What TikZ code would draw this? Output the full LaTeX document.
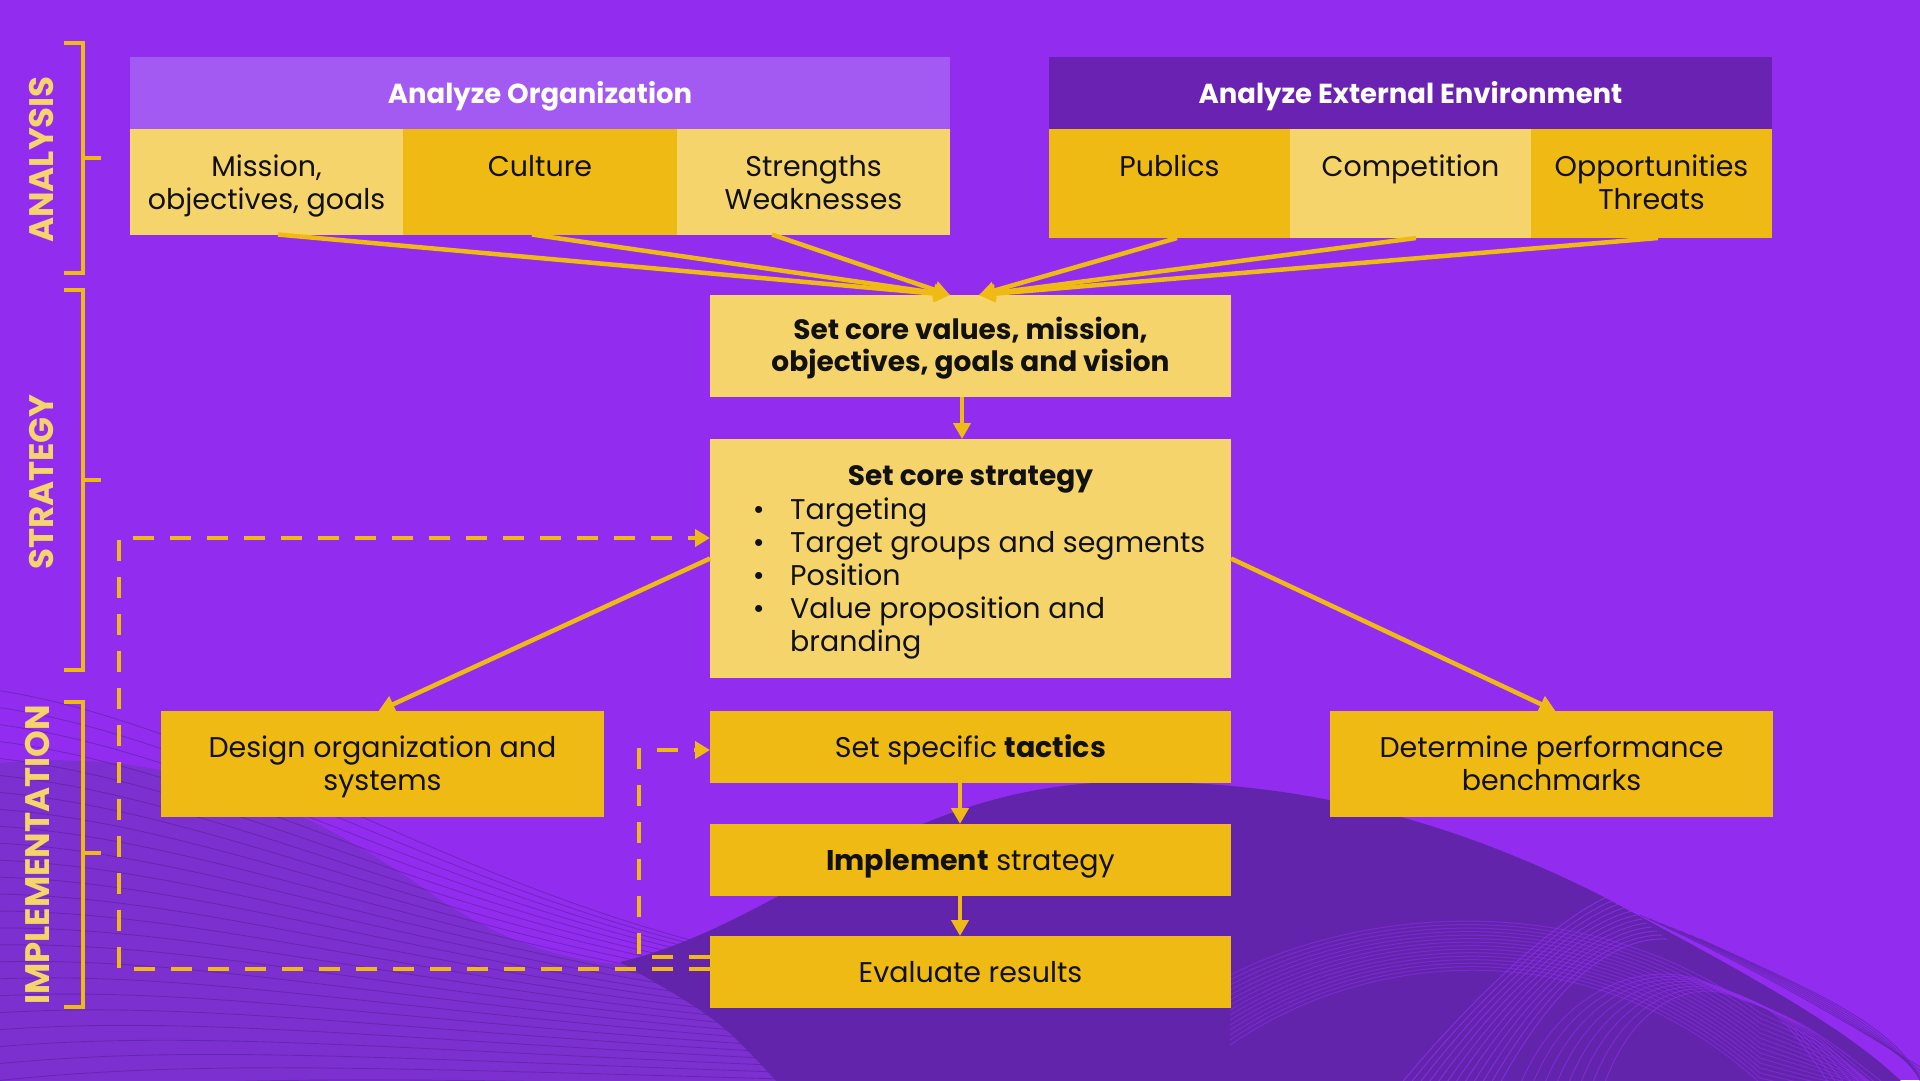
\documentclass[tikz,border=0pt]{standalone}
\usepackage{fontspec}
\setmainfont{Poppins}
\usetikzlibrary{arrows.meta,calc}

\definecolor{bgv}{RGB}{146,45,240}
\definecolor{hdrlight}{RGB}{163,90,242}
\definecolor{hdrdark}{RGB}{106,34,178}
\definecolor{gold}{RGB}{240,186,20}
\definecolor{sand}{RGB}{245,212,108}
\definecolor{hillv}{RGB}{98,36,170}
\definecolor{mutedv}{RGB}{125,48,208}
\definecolor{linev}{RGB}{78,28,140}
\definecolor{ink}{RGB}{17,17,17}

% stacked centred lines whose baseline is the first line
\newcommand\mlines[1]{\begin{tabular}[t]{@{}c@{}}#1\end{tabular}}

\tikzset{
  blk/.style={fill=#1, draw=none, inner sep=0pt, outer sep=0pt},
  txt/.style={font=\fontsize{28.5}{33}\selectfont, text=ink, inner sep=0pt, anchor=base},
  btxt/.style={font=\bfseries\fontsize{28}{32}\selectfont, text=ink, inner sep=0pt, anchor=base},
  htxt/.style={font=\bfseries\fontsize{27.5}{32}\selectfont, text=white, inner sep=0pt, anchor=base},
  sidelbl/.style={font=\bfseries\fontsize{34}{40}\selectfont, text=sand, inner sep=0pt, rotate=90},
  brk/.style={draw=gold, line width=4.5pt, line join=miter},
  arr/.style={draw=gold, line width=4.5pt, -{Triangle[length=16pt,width=17pt]}},
  dsh/.style={draw=gold, line width=4.5pt, dash pattern=on 21pt off 16pt, -{Triangle[length=15pt,width=17pt]}},
  wavel/.style={draw=linev, line width=0.9pt, opacity=0.45},
  arcl/.style={draw=bgv, line width=1pt, opacity=0.75}
}

\begin{document}
\begin{tikzpicture}[x=1pt,y=-1pt]
% canvas
\fill[bgv] (0,0) rectangle (1920,1080);
\useasboundingbox (0,0) rectangle (1920,1080);

% background wave, bottom left
\fill[mutedv] (0,763) .. controls (170,748) and (300,800) .. (436,897)
  .. controls (500,940) and (560,962) .. (640,966)
  .. controls (760,1000) and (900,1050) .. (1000,1085) -- (0,1085) -- cycle;
\foreach \k in {0,...,24}
  \draw[wavel] (-5,{690+17*\k}) .. controls (260,{730+14*\k}) and (520,{940+6*\k})
    .. ({880+18*\k},{975+5*\k}) .. controls ({1040+18*\k},{995+5*\k}) and ({1150+10*\k},1060)
    .. ({1250+10*\k},1090);

% background hill, bottom right
\fill[hillv] (620,962) .. controls (780,925) and (900,785) .. (1120,782)
  .. controls (1300,779) and (1450,820) .. (1600,895)
  .. controls (1750,975) and (1850,1030) .. (1905,1085)
  -- (780,1085) .. controls (720,1020) .. (620,962) -- cycle;
% line work over the hill
\foreach \k in {0,...,14}
  \draw[arcl, opacity=0.55] (1230,{975+5*\k}) .. controls (1380,{900+3*\k}) and (1600,{895+3*\k})
    .. (1760,{1013+5*\k}) .. controls (1820,{1040+4*\k}) .. (1880,{1090});
\foreach \k in {0,...,11}
  \draw[arcl] ({1400+9*\k},1085) .. controls ({1470+8*\k},{1000-2*\k}) and ({1560+5*\k},{915+2*\k})
    .. ({1612+5*\k},{895+4*\k});
\foreach \k in {0,...,7}
  \draw[arcl, opacity=0.6] ({1520+12*\k},1085) .. controls ({1560+10*\k},{990+3*\k}) and ({1640+6*\k},{960+3*\k})
    .. ({1700+4*\k},{980+2*\k}) .. controls ({1780+4*\k},{1010+2*\k}) .. ({1830+8*\k},1085);
\foreach \k in {0,...,6}
  \draw[draw=hillv, line width=1pt, opacity=0.7] ({1640+10*\k},{915+4*\k}) .. controls ({1760+10*\k},{970+4*\k}) and ({1860+8*\k},{1030}) .. ({1925},{1070+4*\k});

% section brackets
\draw[brk] (64,43) -- (83,43) -- (83,273) -- (64,273);
\draw[brk] (83,158) -- (101,158);
\draw[brk] (64,290) -- (83,290) -- (83,670) -- (64,670);
\draw[brk] (83,480) -- (101,480);
\draw[brk] (64,702) -- (83,702) -- (83,1007) -- (64,1007);
\draw[brk] (83,853) -- (101,853);
\node[sidelbl] (lblanalysis) at (42,159.5) {ANALYSIS};
\node[sidelbl] (lblstrategy) at (42,482) {STRATEGY};
\node[sidelbl] (lblimpl) at (38,855) {IMPLEMENTATION};

% organisation analysis
\node[blk=hdrlight, minimum width=820pt, minimum height=72pt] (orghead) at (540,93) {};
\node[htxt] (orgheadtxt) at (540,103) {Analyze Organization};
\node[blk=sand, minimum width=273pt, minimum height=105.5pt] (mission) at (266.5,181.75) {};
\node[blk=gold, minimum width=274pt, minimum height=105.5pt] (culture) at (540,181.75) {};
\node[blk=sand, minimum width=273pt, minimum height=105.5pt] (strengths) at (813.5,181.75) {};
\node[txt] (missiontxt) at (266.5,176) {\mlines{Mission,\\objectives, goals}};
\node[txt] (culturetxt) at (540,176) {Culture};
\node[txt] (strengthstxt) at (813.5,176) {\mlines{Strengths\\Weaknesses}};

% external analysis
\node[blk=hdrdark, minimum width=723pt, minimum height=72pt] (exthead) at (1410.5,93) {};
\node[htxt] (extheadtxt) at (1410.5,103) {Analyze External Environment};
\node[blk=gold, minimum width=241pt, minimum height=109pt] (publics) at (1169.5,183.5) {};
\node[blk=sand, minimum width=241pt, minimum height=109pt] (competition) at (1410.5,183.5) {};
\node[blk=gold, minimum width=241pt, minimum height=109pt] (opport) at (1651.5,183.5) {};
\node[txt] (publicstxt) at (1169.5,176) {Publics};
\node[txt] (competitiontxt) at (1410.5,176) {Competition};
\node[txt] (opporttxt) at (1651.5,176) {\mlines{Opportunities\\Threats}};

% strategy
\node[blk=sand, minimum width=521pt, minimum height=102pt] (corevals) at (970.5,346) {};
\node[btxt] (corevalstxt) at (970.5,339) {\mlines{Set core values, mission,\\objectives, goals and vision}};
\node[blk=sand, minimum width=521pt, minimum height=239pt] (corestrat) at (970.5,558.5) {};
\node[btxt] (corestrattitle) at (970.5,485) {Set core strategy};
\node[txt, anchor=base west] (corestratlist) at (727,519) {%
  \begin{tabular}[t]{@{}l@{}l@{}}
  \makebox[63pt]{\textbullet} & Targeting\\
  \makebox[63pt]{\textbullet} & Target groups and segments\\
  \makebox[63pt]{\textbullet} & Position\\
  \makebox[63pt]{\textbullet} & Value proposition and\\
   & branding
  \end{tabular}};

% implementation
\node[blk=gold, minimum width=443pt, minimum height=106pt] (design) at (382.5,764) {};
\node[txt] (designtxt) at (382.5,757) {\mlines{Design organization and\\systems}};
\node[blk=gold, minimum width=521pt, minimum height=72pt] (tactics) at (970.5,747) {};
\node[txt] (tacticstxt) at (970.5,757) {Set specific \textbf{tactics}};
\node[blk=gold, minimum width=521pt, minimum height=72pt] (implement) at (970.5,860) {};
\node[txt] (implementtxt) at (970.5,870) {\textbf{Implement} strategy};
\node[blk=gold, minimum width=521pt, minimum height=72pt] (evaluate) at (970.5,972) {};
\node[txt] (evaluatetxt) at (970.5,982) {Evaluate results};
\node[blk=gold, minimum width=443pt, minimum height=106pt] (determine) at (1551.5,764) {};
\node[txt] (determinetxt) at (1551.5,757) {\mlines{Determine performance\\benchmarks}};

% analysis feeds the core values
\draw[arr] ([xshift=11.5pt]mission.south) -- ([xshift=-20.5pt]corevals.north);
\draw[arr] ([xshift=-8pt]culture.south) -- ([xshift=-20.5pt]corevals.north);
\draw[arr] ([xshift=-41.5pt]strengths.south) -- ([xshift=-20.5pt]corevals.north);
\draw[arr] ([xshift=7.5pt]publics.south) -- ([xshift=8.5pt]corevals.north);
\draw[arr] ([xshift=5.5pt]competition.south) -- ([xshift=8.5pt]corevals.north);
\draw[arr] ([xshift=6.5pt]opport.south) -- ([xshift=8.5pt]corevals.north);

% main flow
\draw[arr] ([xshift=-8.5pt]corevals.south) -- ([xshift=-8.5pt]corestrat.north);
\draw[arr] (corestrat.west) -- ([xshift=-4pt]design.north);
\draw[arr] (corestrat.east) -- ([xshift=4pt]determine.north);
\draw[arr] ([xshift=-10.5pt]tactics.south) -- ([xshift=-10.5pt]implement.north);
\draw[arr] ([xshift=-10.5pt]implement.south) -- ([xshift=-10.5pt]evaluate.north);

% feedback loops
\coordinate (outerL) at (119,700);
\coordinate (innerL) at (639,850);
\draw[dsh] ([yshift=3pt]evaluate.west) -| (outerL) |- ([yshift=20.5pt]corestrat.west);
\draw[dsh] ([yshift=15pt]evaluate.west) -| (innerL) |- ([yshift=-3pt]tactics.west);
\end{tikzpicture}
\end{document}
